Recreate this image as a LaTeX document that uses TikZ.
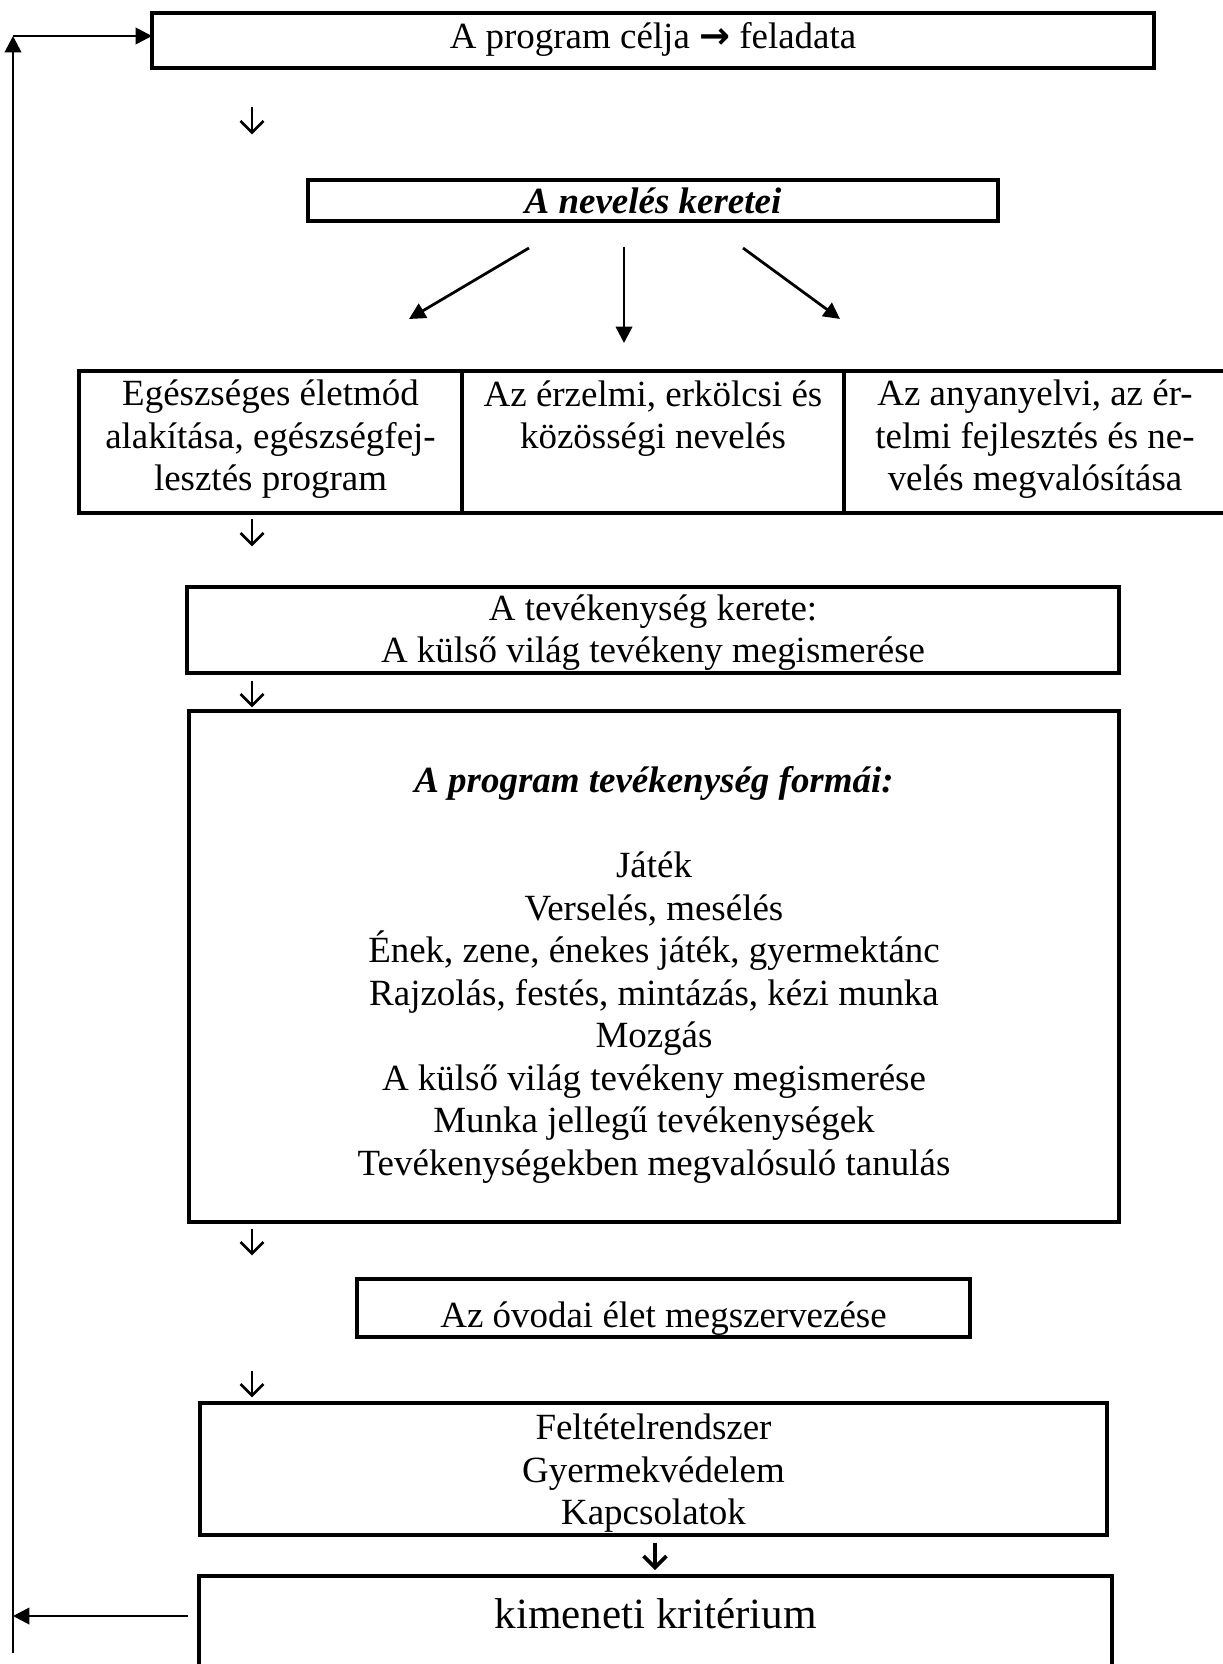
\documentclass[tikz,border=0pt]{standalone}
\usepackage{fontspec}
\setmainfont{Liberation Serif}
\newfontfamily\arrfont{DejaVu Sans}
\usetikzlibrary{arrows.meta}
\begin{document}
\begin{tikzpicture}[x=0.3247pt,y=-0.3247pt,
  box/.style={draw, line width=1pt, inner sep=0pt, outer sep=0pt},
  txt/.style={inner sep=0pt, align=center, font=\fontsize{12}{13.8}\selectfont,
    execute at begin node=\strut, execute at end node=\strut},
  dnarrow/.style={line width=0.9pt, miter limit=10},
  conn/.style={line width=0.9pt, -{Triangle[length=5.3pt,width=5.3pt]}}]
\useasboundingbox (0,0) rectangle (1223,1664);
% boxes
\node[box, minimum width=1002*0.3247pt, minimum height=55*0.3247pt] (top) at (653,40.5) {};
\node[box, minimum width=690*0.3247pt, minimum height=41*0.3247pt] (nev) at (653,200.5) {};
\node[box, minimum width=383*0.3247pt, minimum height=142*0.3247pt] (c1) at (270.5,442) {};
\node[box, minimum width=382*0.3247pt, minimum height=142*0.3247pt] (c2) at (653,442) {};
\node[box, minimum width=382*0.3247pt, minimum height=142*0.3247pt] (c3) at (1035,442) {};
\node[box, minimum width=932*0.3247pt, minimum height=86*0.3247pt] (tev) at (653,630) {};
\node[box, minimum width=930*0.3247pt, minimum height=511*0.3247pt] (big) at (654,966.5) {};
\node[box, minimum width=613*0.3247pt, minimum height=58*0.3247pt] (ovo) at (663.5,1308) {};
\node[box, minimum width=907*0.3247pt, minimum height=132*0.3247pt] (felt) at (653.5,1469) {};
\node[box, minimum width=913*0.3247pt, minimum height=114*0.3247pt] (kim) at (655.5,1633) {};
% texts
\node[txt] (ttop) at (653,40) {A program célja {\arrfont\bfseries\fontsize{12}{12}\selectfont →} feladata};
\node[txt, font=\fontsize{12}{13.8}\selectfont\bfseries\itshape] (tnev) at (653,205.5) {A nevelés keretei};
\node[txt] (tc1) at (270.5,442) {Egészséges életmód\\alakítása, egészségfej-\\lesztés program};
\node[txt] (tc2) at (653,421) {Az érzelmi, erkölcsi és\\közösségi nevelés};
\node[txt] (tc3) at (1035,442) {Az anyanyelvi, az ér-\\telmi fejlesztés és ne-\\velés megvalósítása};
\node[txt] (ttev) at (653,635) {A tevékenység kerete:\\A külső világ tevékeny megismerése};
\node[txt] (tbig) at (654,977.5) {\textbf{\textit{A program tevékenység formái:}}\\[0pt] \\Játék\\Verselés, mesélés\\Ének, zene, énekes játék, gyermektánc\\Rajzolás, festés, mintázás, kézi munka\\Mozgás\\A külső világ tevékeny megismerése\\Munka jellegű tevékenységek\\Tevékenységekben megvalósuló tanulás};
\begin{scope}
\clip (ovo.north west) rectangle (ovo.south east);
\node[txt] (tovo) at (663.5,1319) {Az óvodai élet megszervezése};
\end{scope}
\node[txt] (tfelt) at (653.5,1476) {Feltételrendszer\\Gyermekvédelem\\Kapcsolatok};
\node[txt, font=\fontsize{14}{16.1}\selectfont] (tkim) at (655.5,1618.5) {kimeneti kritérium};
% small down arrows (drawn glyph shapes)
\foreach \cx/\cy in {252/120, 252/532, 252/693, 252/1241, 252/1383}{
  \draw[dnarrow] (\cx,\cy-12.5) -- (\cx,\cy+12.5);
  \draw[dnarrow] (\cx-11.5,\cy+1) -- (\cx,\cy+12.5) -- (\cx+11.5,\cy+1);
}
\draw[dnarrow, line width=1.2pt] (655,1542.5) -- (655,1567.5);
\draw[dnarrow, line width=1.2pt] (643.5,1556) -- (655,1567.5) -- (666.5,1556);
% three arrows from nev
\coordinate (a1s) at (529,248); \coordinate (a1e) at (409,319);
\coordinate (a2s) at (624,247); \coordinate (a2e) at (624,343);
\coordinate (a3s) at (743,248); \coordinate (a3e) at (840,319);
\draw[conn] (a1s) -- (a1e);
\draw[conn] (a2s) -- (a2e);
\draw[conn] (a3s) -- (a3e);
% feedback loop
\coordinate (lt) at (13,36);
\coordinate (lb) at (13,1653);
\coordinate (la) at (13,1616);
\coordinate (ks) at (188,1616);
\draw[conn] (ks) -- (la);
\draw[conn] (lb) -- (lt);
\draw[conn] (lt) -- (lt -| top.west);
\end{tikzpicture}
\end{document}
